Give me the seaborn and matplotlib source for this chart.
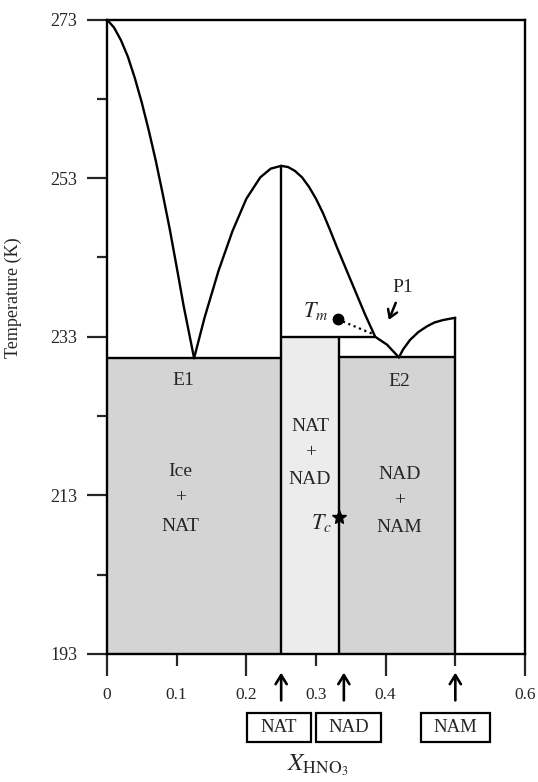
import numpy as np
import pandas as pd
import matplotlib
matplotlib.use("Agg")
import matplotlib.pyplot as plt
import seaborn as sns
from matplotlib.patches import Rectangle

# liquidus branches (x = mole fraction HNO3, T in K)
ice_x = [0, 0.01, 0.02, 0.03, 0.04, 0.05, 0.06, 0.07, 0.08, 0.09, 0.10, 0.11, 0.125]
ice_T = [273, 272.0, 270.4, 268.3, 265.6, 262.5, 259.0, 255.2, 251.0, 246.6,
         241.8, 236.9, 230.3]
natl_x = [0.125, 0.14, 0.16, 0.18, 0.2, 0.22, 0.235, 0.25]
natl_T = [230.3, 235.4, 241.3, 246.3, 250.4, 253.1, 254.2, 254.55]
natr_x = [0.25, 0.26, 0.27, 0.28, 0.29, 0.30, 0.31, 0.32, 0.33, 0.34, 0.35,
          0.36, 0.37, 0.385]
natr_T = [254.55, 254.4, 253.9, 253.1, 251.9, 250.4, 248.6, 246.5, 244.3,
          242.2, 240.1, 238.0, 235.9, 233.0]
nad_x = [0.385, 0.402, 0.419]
nad_T = [233.0, 232.0, 230.4]
nam_x = [0.419, 0.425, 0.435, 0.447, 0.459, 0.47, 0.482, 0.5]
nam_T = [230.4, 231.4, 232.6, 233.6, 234.3, 234.8, 235.1, 235.4]

# compositions and invariant temperatures
x_nat, x_nad, x_nam = 0.25, 0.333, 0.5
T_e1, T_p1, T_e2 = 230.3, 233.0, 230.4
T_base = 193
T_peak, T_namtop = 254.55, 235.4
tm = (0.331, 235.2)
p1 = (0.385, 233.0)
tc = (0.333, 210.3)

compounds = ["NAT", "NAD", "NAM"]
arrow_x = [0.25, 0.34, 0.5]
box_x = [(0.201, 0.293), (0.300, 0.393), (0.451, 0.550)]

yticks = [193, 213, 233, 253, 273]
xmajor = [0, 0.2, 0.4, 0.6]
xminor = [0.1, 0.3, 0.5]

sns.set_style("white")
plt.rcParams["font.family"] = ["Liberation Serif", "DejaVu Serif"]
plt.rcParams["mathtext.fontset"] = "stix"

fig = plt.figure(figsize=(5.38, 7.82), dpi=100)
ax = fig.add_axes([0.1989, 0.1637, 0.7769, 0.8113])

gray = "#d4d4d4"
light = "#ececec"
ax.fill_between([0, x_nat], T_base, T_e1, color=gray, lw=0)
ax.fill_between([x_nat, x_nad], T_base, T_p1, color=light, lw=0)
ax.fill_between([x_nad, x_nam], T_base, T_e2, color=gray, lw=0)

branches = []
for name, xs, ts in [("ice", ice_x, ice_T), ("natl", natl_x, natl_T),
                     ("natr", natr_x, natr_T), ("nad", nad_x, nad_T),
                     ("nam", nam_x, nam_T)]:
    branches.append(pd.DataFrame({"x": xs, "T": ts, "branch": name}))
liq = pd.concat(branches, ignore_index=True)
sns.lineplot(data=liq, x="x", y="T", units="branch", estimator=None,
             sort=False, color="black", lw=1.7, ax=ax)

lk = dict(color="black", lw=1.7)
ax.plot([0, x_nat], [T_e1, T_e1], **lk)
ax.plot([x_nat, p1[0]], [T_p1, T_p1], **lk)
ax.plot([x_nad, x_nam], [T_e2, T_e2], **lk)
ax.plot([x_nat, x_nat], [T_base, T_peak], **lk)
ax.plot([x_nad, x_nad], [T_base, T_p1], **lk)
ax.plot([x_nam, x_nam], [T_base, T_namtop], **lk)

# Tm point and metastable extension
ax.plot([tm[0], p1[0] - 0.002], [tm[1], p1[1] + 0.3], color="black",
        lw=1.6, ls=(0, (1, 1.6)))
ax.plot(*tm, "o", color="black", ms=7.5)
ax.plot(*tc, "*", color="black", ms=10)

fs = 14
ax.text(tm[0] - 0.031, tm[1] + 1.0, r"$T_m$", fontsize=16, ha="center", va="center")
ax.text(tc[0] - 0.025, tc[1] - 0.8, r"$T_c$", fontsize=16, ha="center", va="center")
ax.text(0.424, 239.2, "P1", fontsize=fs, ha="center", va="center")
ax.annotate("", xy=(0.403, 234.8), xytext=(0.416, 237.6),
            arrowprops=dict(arrowstyle="->,head_length=0.55,head_width=0.35",
                            lw=1.8, color="black"))

ax.text(0.11, 227.5, "E1", fontsize=fs, ha="center", va="center")
ax.text(0.42, 227.3, "E2", fontsize=fs, ha="center", va="center")
for xc, lines, ys in [(0.105, ["Ice", "+", "NAT"], [216.0, 212.7, 209.1]),
                      (0.2915, ["NAT", "+", "NAD"], [221.7, 218.4, 215.0]),
                      (0.42, ["NAD", "+", "NAM"], [215.6, 212.3, 209.0])]:
    for yy, s in zip(ys, lines):
        ax.text(xc, yy, s, fontsize=fs, ha="center", va="center")

ax.set_xlim(0, 0.6)
ax.set_ylim(193, 273)
ax.set_yticks(yticks)
ax.set_yticks([203, 223, 243, 263], minor=True)
ax.set_xticks(xmajor)
ax.set_xticklabels(["0", "0.2", "0.4", "0.6"])
ax.set_xticks(xminor, minor=True)
ax.set_xticklabels(["0.1", "0.3", ""], minor=True)
ax.tick_params(axis="y", which="major", direction="out", length=14.4, width=1.6,
               pad=7, labelsize=13, left=True)
ax.tick_params(axis="y", which="minor", direction="out", length=7.2, width=1.6, left=True)
ax.tick_params(axis="x", which="major", direction="out", length=15.8, width=1.6,
               pad=8, labelsize=12.5, bottom=True)
ax.tick_params(axis="x", which="minor", direction="out", length=8.6, width=1.6,
               pad=15.2, labelsize=12.5, bottom=True)
for sp in ax.spines.values():
    sp.set_visible(True)
    sp.set_color("black")
    sp.set_linewidth(1.7)
ax.set_xlabel("")
ax.set_ylabel("Temperature (K)", fontsize=13)
ax.yaxis.set_label_coords(-0.203, 0.561)

# composition markers below the axis
for xa, name, (b0, b1) in zip(arrow_x, compounds, box_x):
    ax.annotate("", xy=(xa, 191.0), xytext=(xa, 186.8), annotation_clip=False,
                arrowprops=dict(arrowstyle="->,head_length=0.65,head_width=0.4",
                                lw=1.9, color="black"))
    ax.add_patch(Rectangle((b0, 181.9), b1 - b0, 3.6, fill=False, lw=1.6,
                           ec="black", clip_on=False))
    ax.text((b0 + b1) / 2, 183.7, name, fontsize=13.5, ha="center", va="center")

fig.text(318 / 538, 1 - 765 / 782, r"$X_{\mathrm{HNO_3}}$", fontsize=18,
         ha="center", va="center")

fig.savefig("out.png", dpi=100)
